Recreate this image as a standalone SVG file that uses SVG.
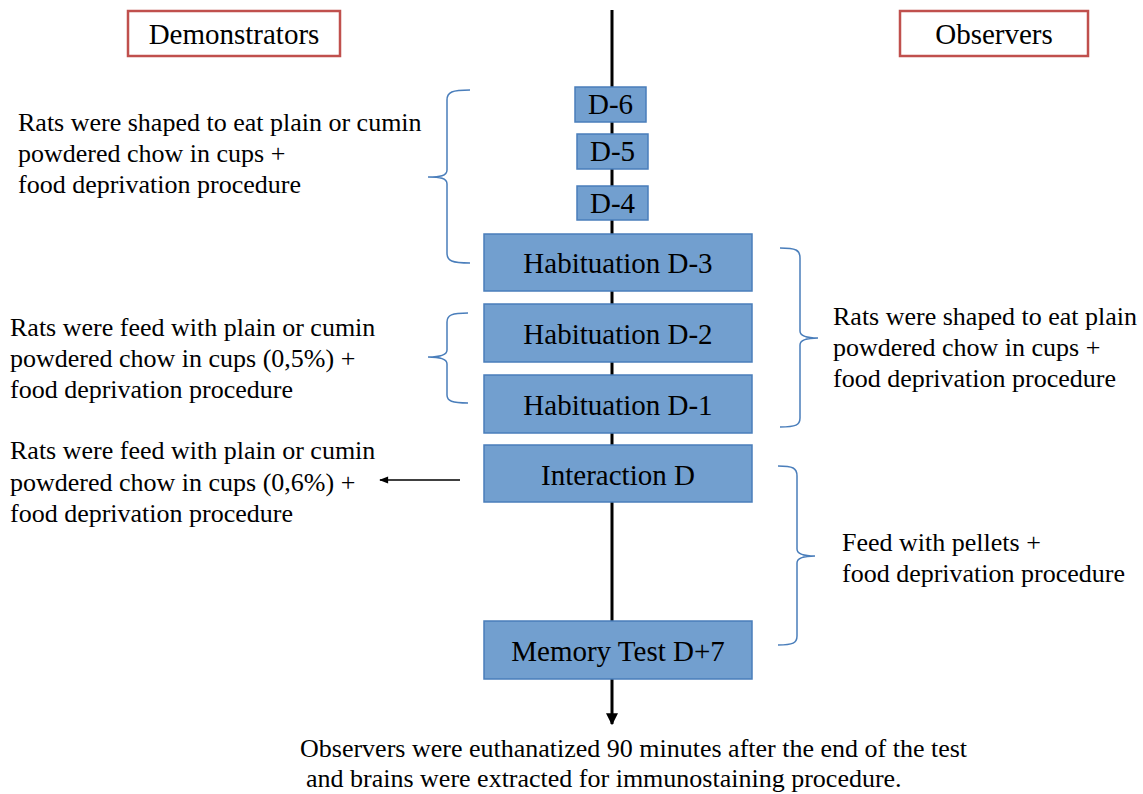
<svg xmlns="http://www.w3.org/2000/svg" width="1143" height="794" viewBox="0 0 1143 794">
<style>
.box{fill:#729fcf;stroke:#4a7ebb;stroke-width:1.5}
.hdr{fill:#fff;stroke:#c0504d;stroke-width:2.5}
.t{font-family:"Liberation Serif","Times New Roman",serif;fill:#000}
.bt{font-size:29px;text-anchor:middle}
.st{font-size:26px}
.br{fill:none;stroke:#4a7ebb;stroke-width:1.5}
</style>
<defs>
<marker id="ah" viewBox="0 0 10 10" refX="9" refY="5" markerWidth="4" markerHeight="4" orient="auto"><path d="M0,0 L10,5 L0,10 z" fill="#000"/></marker>
<marker id="ah2" viewBox="0 0 10 10" refX="9" refY="5" markerWidth="8" markerHeight="6" orient="auto"><path d="M0,1 L10,5 L0,9 z" fill="#000"/></marker>
</defs>
<g id="connectors">
<line x1="612" y1="10" x2="612" y2="724" stroke="#000" stroke-width="3" marker-end="url(#ah)"/>
<line x1="460" y1="480" x2="380" y2="480" stroke="#000" stroke-width="1.5" marker-end="url(#ah2)"/>
<path class="br" d="M470,90 C452,90 447,92 447,100 L447,170 C447,176 440,177 428,177 C440,177 447,178 447,184 L447,253 C447,261 452,263 470,263"/>
<path class="br" d="M468,313 C452,313 447,315 447,322 L447,350 C447,355 440,357 428,357 C440,357 447,359 447,364 L447,395 C447,401 452,403 468,403"/>
<path class="br" d="M780,248 C796,248 800,250 800,258 L800,331 C800,336 806,338 818,338 C806,338 800,340 800,345 L800,418 C800,425 796,427 780,427"/>
<path class="br" d="M778,466 C793,466 797,468 797,476 L797,549 C797,554 803,556 815,556 C803,556 797,558 797,563 L797,636 C797,643 793,645 778,645"/>
</g>
<g id="demonstrators"><rect class="hdr" x="128" y="11" width="212" height="45"/><text class="t" x="234" y="44" font-size="29" text-anchor="middle">Demonstrators</text></g>
<g id="observers"><rect class="hdr" x="900" y="11" width="188" height="45"/><text class="t" x="994" y="44" font-size="29" text-anchor="middle">Observers</text></g>
<g id="d6"><rect class="box" x="575" y="87" width="71" height="35"/><text class="t bt" x="610.5" y="114">D-6</text></g>
<g id="d5"><rect class="box" x="577" y="134" width="71" height="35"/><text class="t bt" x="612.5" y="161">D-5</text></g>
<g id="d4"><rect class="box" x="577" y="186" width="71" height="34"/><text class="t bt" x="612.5" y="213">D-4</text></g>
<g id="hab3"><rect class="box" x="484" y="234" width="268" height="57"/><text class="t bt" x="618" y="273">Habituation D-3</text></g>
<g id="hab2"><rect class="box" x="484" y="304" width="268" height="58"/><text class="t bt" x="618" y="344">Habituation D-2</text></g>
<g id="hab1"><rect class="box" x="484" y="375" width="268" height="58"/><text class="t bt" x="618" y="415">Habituation D-1</text></g>
<g id="interaction"><rect class="box" x="484" y="445" width="268" height="57"/><text class="t bt" x="618" y="485">Interaction D</text></g>
<g id="memory"><rect class="box" x="484" y="621" width="268" height="58"/><text class="t bt" x="618" y="661">Memory Test D+7</text></g>
<g id="left1"><text class="t st" x="18" y="131">Rats were shaped to eat plain or cumin</text><text class="t st" x="18" y="162">powdered chow in cups +</text><text class="t st" x="18" y="193">food deprivation procedure</text></g>
<g id="left2"><text class="t st" x="10" y="336">Rats were feed with plain or cumin</text><text class="t st" x="10" y="367">powdered chow in cups (0,5%) +</text><text class="t st" x="10" y="398">food deprivation procedure</text></g>
<g id="left3"><text class="t st" x="10" y="459">Rats were feed with plain or cumin</text><text class="t st" x="10" y="491">powdered chow in cups (0,6%) +</text><text class="t st" x="10" y="522">food deprivation procedure</text></g>
<g id="right1"><text class="t st" x="833" y="325">Rats were shaped to eat plain</text><text class="t st" x="833" y="356">powdered chow in cups +</text><text class="t st" x="833" y="387">food deprivation procedure</text></g>
<g id="right2"><text class="t st" x="842" y="551">Feed with pellets +</text><text class="t st" x="842" y="582">food deprivation procedure</text></g>
<g id="bottom"><text class="t st" x="300" y="757">Observers were euthanatized 90 minutes after the end of the test</text><text class="t st" x="306" y="787">and brains were extracted for immunostaining procedure.</text></g>
</svg>
